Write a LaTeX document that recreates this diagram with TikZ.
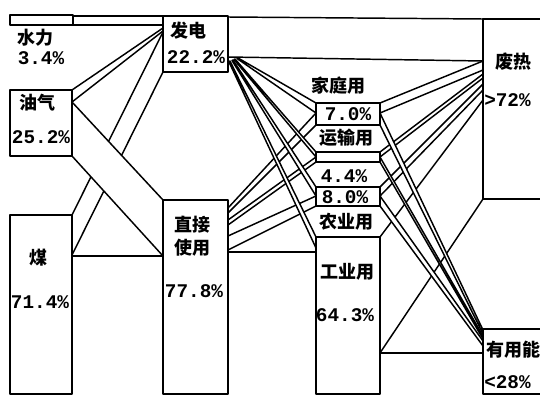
\documentclass[tikz,border=0pt]{standalone}
\usepackage{fontspec}
\newfontfamily\cjk{Noto Sans CJK SC}
\newfontfamily\mono{Liberation Mono}
\begin{document}
\begin{tikzpicture}[x=0.75pt,y=-0.75pt,line join=round,
  band/.style={fill=white,draw=black,line width=1.1pt},
  ln/.style={draw=black,line width=1.1pt},
  box/.style={fill=white,draw=black,line width=1.8pt},
  zh/.style={font=\cjk\bfseries\fontsize{13.5}{15}\selectfont,inner sep=0pt},
  num/.style={font=\mono\bfseries\fontsize{14.5}{16}\selectfont,inner sep=0pt}]
\useasboundingbox (0,0) rectangle (540,396);
\clip (0,0) rectangle (540,396);
\fill[white] (0,0) rectangle (540,396);

% --- left flows ---
\draw[band] (228,17) -- (483,19) -- (483,61) -- (228,57) -- cycle;
\draw[band] (73,16) -- (163,16) -- (163,25) -- (73,25) -- cycle;
\draw[band] (72,90) -- (163,28) -- (163,31) -- (72,102) -- cycle;
\draw[band] (72,215) -- (163,32) -- (163,72) -- (72,255) -- cycle;
\draw[band] (72,102) -- (163,200) -- (163,256) -- (72,156) -- cycle;
\draw[ln] (72,256) -- (163,256);

% --- direct use fan (behind) ---
\draw[band] (228,208) -- (316,113) -- (316,125) -- (228,213) -- cycle;
\draw[band] (228,220) -- (316,157) -- (316,162) -- (228,225) -- cycle;
\draw[band] (228,236) -- (316,196) -- (316,206) -- (228,250) -- cycle;
\draw[ln] (228,252) -- (316,252);

% --- electricity fan (front) ---
\draw[band] (230,61) -- (316,237) -- (316,248) -- (229,62) -- cycle;
\draw[band] (233,60) -- (316,187) -- (316,196) -- (232,60.5) -- cycle;
\draw[band] (235,59) -- (316,152) -- (316,157) -- (234,59.5) -- cycle;
\draw[band] (238,58) -- (316,103) -- (316,113) -- (237,58.5) -- cycle;

% --- waste heat fans (behind) ---
\draw[band] (380,237) -- (483,100) -- (483,199) -- (380,353) -- cycle;
\draw[band] (380,187) -- (483,84) -- (483,90) -- (380,196) -- cycle;
\draw[band] (380,152) -- (483,74) -- (483,78) -- (380,157) -- cycle;
\draw[band] (380,103) -- (483,61) -- (483,70) -- (380,113) -- cycle;

% --- useful energy fans (front) ---
\draw[band] (380,196) -- (483,341) -- (483,346) -- (380,206) -- cycle;
\draw[band] (380,157) -- (483,336) -- (483,339) -- (380,162) -- cycle;
\draw[band] (380,113) -- (483,330) -- (483,334) -- (380,125) -- cycle;
\draw[ln] (380,353) -- (483,353);

% --- boxes ---
\draw[box] (10,15) rectangle (73,25);
\draw[box] (10,90) rectangle (72,156);
\draw[box] (10,215) rectangle (72,394);
\draw[box] (163,16) rectangle (228,72);
\draw[box] (163,200) rectangle (228,394);
\draw[box] (316,103) rectangle (380,125);
\draw[box] (316,152) rectangle (380,162);
\draw[box] (316,187) rectangle (380,206);
\draw[box] (316,237) rectangle (380,394);
\draw[box] (483,19) rectangle (560,199);
\draw[box] (483,329) rectangle (560,394);

% --- labels ---
\node[zh]  (shuili)  at (35,38)  {水力};
\node[num] (shuiliv) at (41,58)  {3.4\%};
\node[zh]  (youqi)   at (37,103) {油气};
\node[num] (youqiv)  at (41,137) {25.2\%};
\node[zh]  (mei)     at (38,258) {煤};
\node[num] (meiv)    at (40,302) {71.4\%};
\node[zh]  (fadian)  at (188,31) {发电};
\node[num] (fadianv) at (196,57) {22.2\%};
\node[zh]  (zhijie)  at (192,225) {直接};
\node[zh]  (shiyong) at (192,248) {使用};
\node[num] (zhijiev) at (194,291) {77.8\%};
\node[zh]  (jiating) at (338,86) {家庭用};
\node[num] (jiatingv) at (348,114) {7.0\%};
\node[zh]  (yunshu)  at (346,138) {运输用};
\node[num] (yunshuv) at (344,176) {4.4\%};
\node[num] (nongv)   at (345,197) {8.0\%};
\node[zh]  (nongye)  at (346,222) {农业用};
\node[zh]  (gongye)  at (347,272) {工业用};
\node[num] (gongyev) at (345,315) {64.3\%};
\node[zh]  (feire)   at (513,62) {废热};
\node[num,anchor=west] (feirev) at (484,100) {>72\%};
\node[zh]  (youyong) at (513,350) {有用能};
\node[num,anchor=west] (youyongv) at (484,382) {<28\%};
\end{tikzpicture}
\end{document}
